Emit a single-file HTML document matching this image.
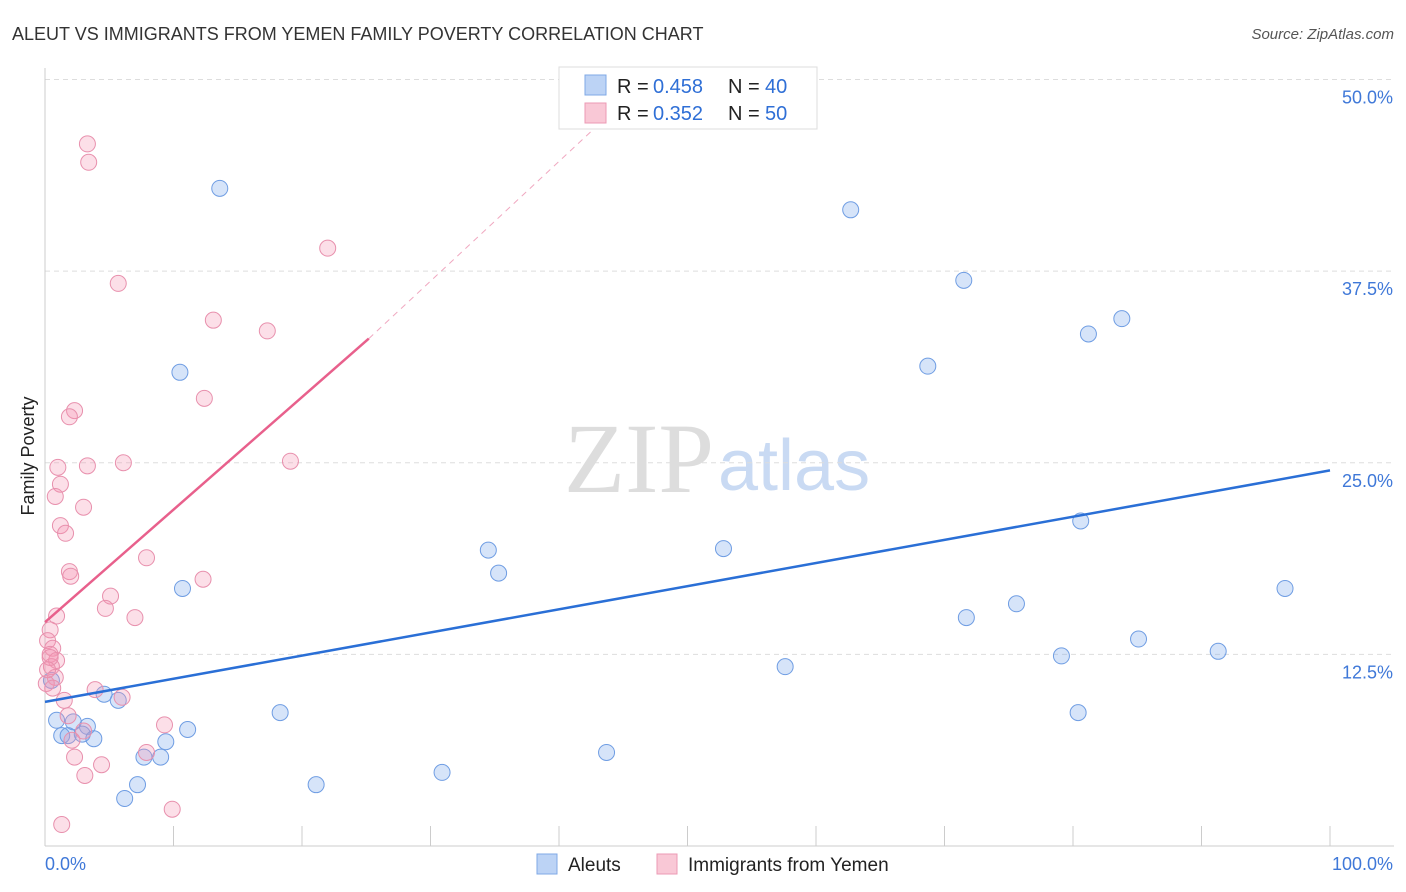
<!DOCTYPE html>
<html><head><meta charset="utf-8"><style>
body{margin:0;background:#fff;font-family:"Liberation Sans",sans-serif;}
svg{display:block}
</style></head><body>
<svg id="c" width="1406" height="892">
<text x="12" y="40" font-size="18" fill="#333">ALEUT VS IMMIGRANTS FROM YEMEN FAMILY POVERTY CORRELATION CHART</text>
<text x="1394" y="39" font-size="15" fill="#555" font-style="italic" text-anchor="end">Source: ZipAtlas.com</text>
<text x="34" y="456" font-size="18" fill="#222" transform="rotate(-90 34 456)" text-anchor="middle">Family Poverty</text>
<text x="714" y="492" font-size="100" fill="#ddd" text-anchor="end" font-family="Liberation Serif">ZIP</text>
<text x="718" y="490" font-size="72" fill="#c9daf3">atlas</text>
<g id="grid"></g><g id="pts"></g><g id="lines"></g>
<g>
<rect x="559" y="67" width="258" height="62" fill="#fff" stroke="#ddd"/>
<rect x="585" y="75" width="21" height="20" fill="#bcd3f5" stroke="#7fa8e6"/>
<rect x="585" y="103" width="21" height="20" fill="#f9c8d6" stroke="#ec9ab4"/>
<text x="617" y="93" font-size="20" fill="#222">R =</text><text x="653" y="93" font-size="20" fill="#2f6fd6">0.458</text>
<text x="728" y="93" font-size="20" fill="#222">N =</text><text x="765" y="93" font-size="20" fill="#2f6fd6">40</text>
<text x="617" y="120" font-size="20" fill="#222">R =</text><text x="653" y="120" font-size="20" fill="#2f6fd6">0.352</text>
<text x="728" y="120" font-size="20" fill="#222">N =</text><text x="765" y="120" font-size="20" fill="#2f6fd6">50</text>
</g>
<g>
<rect x="537" y="854" width="20" height="20" fill="#bcd3f5" stroke="#7fa8e6"/>
<text x="568" y="871" font-size="19" fill="#222">Aleuts</text>
<rect x="657" y="854" width="20" height="20" fill="#f9c8d6" stroke="#ec9ab4"/>
<text x="688" y="871" font-size="19" fill="#222">Immigrants from Yemen</text>
</g>
</svg>
<script>
const NS='http://www.w3.org/2000/svg';
const xTicks=[0,10,20,30,40,50,60,70,80,90,100];
const yTicks=[12.5,25,37.5,50];
const yLabels=['12.5%','25.0%','37.5%','50.0%'];
const aleutX=[13.6,62.7,71.5,83.8,81.2,68.7,10.5,80.6,34.5,52.8,35.3,10.7,96.5,75.6,71.7,85.1,91.3,79.1,57.6,0.5,4.6,5.7,18.3,80.4,0.9,2.2,3.3,11.1,1.3,1.8,2.9,3.8,9.4,7.7,9.0,43.7,30.9,7.2,21.1,6.2];
const aleutY=[42.9,41.5,36.9,34.4,33.4,31.3,30.9,21.2,19.3,19.4,17.8,16.8,16.8,15.8,14.9,13.5,12.7,12.4,11.7,10.8,9.9,9.5,8.7,8.7,8.2,8.1,7.8,7.6,7.2,7.2,7.3,7.0,6.8,5.8,5.8,6.1,4.8,4.0,4.0,3.1];
const yemX=[3.3,3.4,22.0,5.7,13.1,17.3,12.4,2.3,1.9,3.3,6.1,19.1,1.0,1.2,0.8,3.0,1.2,1.6,7.9,1.9,2.0,12.3,5.1,4.7,7.0,0.9,0.4,0.2,0.6,0.4,0.9,0.5,0.8,0.1,3.9,6.0,1.5,1.8,9.3,3.0,2.1,7.9,2.3,4.4,3.1,9.9,1.3,0.4,0.2,0.6];
const yemY=[45.8,44.6,39.0,36.7,34.3,33.6,29.2,28.4,28.0,24.8,25.0,25.1,24.7,23.6,22.8,22.1,20.9,20.4,18.8,17.9,17.6,17.4,16.3,15.5,14.9,15.0,14.1,13.4,12.9,12.5,12.1,11.7,11.0,10.6,10.2,9.7,9.5,8.5,7.9,7.5,6.9,6.1,5.8,5.3,4.6,2.4,1.4,12.3,11.5,10.3];
const blueLine=[[0,9.4],[100,24.5]];
const pinkLine=[[0,14.6],[25.2,33.1]];
const pinkDash=[[25.2,33.1],[43,47]];
const X=v=>45+v*12.85, Y=v=>846-v*15.33;
function mk(t,a,p){const e=document.createElementNS(NS,t);for(const k in a)e.setAttribute(k,a[k]);p.appendChild(e);return e;}
const g=document.getElementById('grid');
yTicks.forEach((t,i)=>{
 const l=mk('line',{x1:45,x2:1394,y1:Y(t),y2:Y(t),stroke:'#ddd','stroke-dasharray':'5,4'},g);
 
 
 const tx=mk('text',{x:1393,y:Y(t)+24,'font-size':18,fill:'#3f78d8','text-anchor':'end'},g);tx.textContent=yLabels[i];
 
 
});
mk('line',{x1:45,x2:1394,y1:846,y2:846,stroke:'#ccc'},g);
mk('line',{x1:45,x2:45,y1:68,y2:846,stroke:'#ccc'},g);
xTicks.forEach(t=>{const l=mk('line',{x1:X(t),x2:X(t),y1:826,y2:846,stroke:'#ccc'},g);
 
 });
let t1=mk('text',{x:45,y:870,'font-size':18,fill:'#3f78d8'},g);t1.textContent='0.0%';


let t2=mk('text',{x:1393,y:870,'font-size':18,fill:'#3f78d8','text-anchor':'end'},g);t2.textContent='100.0%';


const p=document.getElementById('pts');
aleutX.forEach((v,i)=>{const c=mk('circle',{cx:X(v),cy:Y(aleutY[i]),r:8,fill:'rgba(120,165,235,0.3)',stroke:'#6f9de3','stroke-width':1},p);
 
 });
yemX.forEach((v,i)=>{const c=mk('circle',{cx:X(v),cy:Y(yemY[i]),r:8,fill:'rgba(245,150,180,0.3)',stroke:'#e890ad','stroke-width':1},p);
 
 });
const L=document.getElementById('lines');
const b=mk('line',{x1:X(blueLine[0][0]),y1:Y(blueLine[0][1]),x2:X(blueLine[1][0]),y2:Y(blueLine[1][1]),stroke:'#2a6fd6','stroke-width':2.5},L);


const pk=mk('line',{x1:X(pinkLine[0][0]),y1:Y(pinkLine[0][1]),x2:X(pinkLine[1][0]),y2:Y(pinkLine[1][1]),stroke:'#e8608c','stroke-width':2.5},L);


const pd=mk('line',{x1:X(pinkDash[0][0]),y1:Y(pinkDash[0][1]),x2:X(pinkDash[1][0]),y2:Y(pinkDash[1][1]),stroke:'#f0a8c0','stroke-width':1,'stroke-dasharray':'6,5'},L);


</script>
</body></html>
